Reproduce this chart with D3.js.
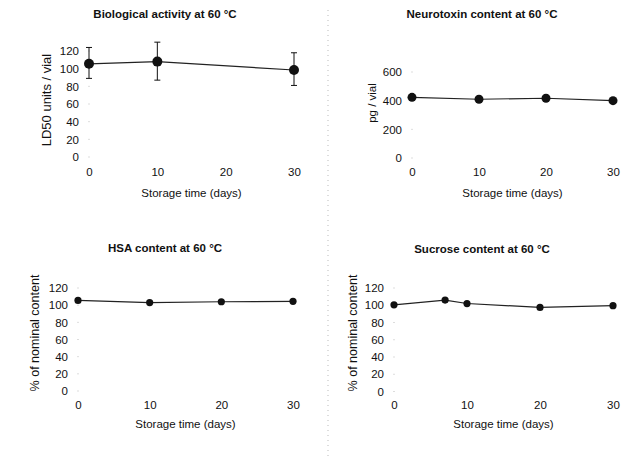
<!DOCTYPE html>
<html>
<head>
<meta charset="utf-8">
<script src="https://cdn.jsdelivr.net/npm/d3@7"></script>
<style>
  body { margin: 0; background: #fff; }
  svg text { font-family: "Liberation Sans", Arial, sans-serif; fill: #111; }
</style>
</head>
<body>
<div id="chart"></div>
<script>
// data
const bioDays = [0, 10, 30];
const bioValues = [105.5, 108, 98.5];
const bioLow = [89, 87, 81];
const bioHigh = [124, 130, 118];

const neuroDays = [0, 10, 20, 30];
const neuroValues = [423, 410, 417, 400];

const hsaDays = [0, 10, 20, 30];
const hsaValues = [105.5, 103, 104, 104.5];

const sucroseDays = [0, 7, 10, 20, 30];
const sucroseValues = [100.5, 106, 102, 97.5, 99.5];

const xTicks = [0, 10, 20, 30];
const pctTicks = [0, 20, 40, 60, 80, 100, 120];
const neuroTicks = [0, 200, 400, 600];

const titles = [
  'Biological activity at 60 °C',
  'Neurotoxin content at 60 °C',
  'HSA content at 60 °C',
  'Sucrose content at 60 °C'
];
const yLabels = ['LD50 units / vial', 'pg / vial', '% of nominal content', '% of nominal content'];
const xLabel = 'Storage time (days)';

const width = 629, height = 456;
const svg = d3.select('#chart').append('svg')
  .attr('width', width)
  .attr('height', height);

// faint scan divider
svg.append('line')
  .attr('x1', 328).attr('x2', 328)
  .attr('y1', 10).attr('y2', 456)
  .attr('stroke', '#aaa')
  .attr('stroke-width', 0.8)
  .attr('stroke-dasharray', '1,4');

const panels = [
  {days: bioDays, values: bioValues, low: bioLow, high: bioHigh, yTicks: pctTicks, yMax: 120,
   x0: 89, x1: 294, yb: 157, yt: 51, labelRight: 79, xLabY: 168, titleX: 165, titleY: 18,
   yLabX: 46, yLabY: 100, yLabSize: 13, xTitleY: 197, r: 5},
  {days: neuroDays, values: neuroValues, yTicks: neuroTicks, yMax: 600,
   x0: 412, x1: 613, yb: 158, yt: 72, labelRight: 402, xLabY: 168, titleX: 482, titleY: 18,
   yLabX: 372, yLabY: 103, yLabSize: 11.5, xTitleY: 197, r: 4.5},
  {days: hsaDays, values: hsaValues, yTicks: pctTicks, yMax: 120,
   x0: 78, x1: 293, yb: 391, yt: 288, labelRight: 68, xLabY: 401, titleX: 165, titleY: 252,
   yLabX: 35, yLabY: 333, yLabSize: 12.5, xTitleY: 428, r: 3.6},
  {days: sucroseDays, values: sucroseValues, yTicks: pctTicks, yMax: 120,
   x0: 394, x1: 613, yb: 391.5, yt: 288, labelRight: 384, xLabY: 401, titleX: 482, titleY: 253,
   yLabX: 353, yLabY: 333, yLabSize: 12.5, xTitleY: 428, r: 3.6}
];

panels.forEach((p, i) => {
  const g = svg.append('g');
  const x = d3.scaleLinear().domain([0, 30]).range([p.x0, p.x1]);
  const y = d3.scaleLinear().domain([0, p.yMax]).range([p.yb, p.yt]);

  g.append('text')
    .attr('x', p.titleX).attr('y', p.titleY)
    .attr('text-anchor', 'middle')
    .style('font-size', '11.5px')
    .style('font-weight', 'bold')
    .text(titles[i]);

  const yAxis = g.append('g')
    .attr('transform', `translate(${p.labelRight},0)`)
    .call(d3.axisLeft(y).tickValues(p.yTicks).tickSize(0).tickPadding(0));
  yAxis.select('.domain').remove();
  yAxis.selectAll('text').style('font-size', '11.5px').attr('fill', '#111');

  const xAxis = g.append('g')
    .attr('transform', `translate(0,${p.xLabY})`)
    .call(d3.axisBottom(x).tickValues(xTicks).tickSize(0).tickPadding(0));
  xAxis.select('.domain').remove();
  xAxis.selectAll('text').style('font-size', '11.5px').attr('fill', '#111');

  // faint tick specks left over from the scan
  g.selectAll('.speck').data(p.yTicks).join('rect')
    .attr('x', x(0) - 0.5).attr('y', d => y(d) - 0.5)
    .attr('width', 1).attr('height', 1)
    .attr('fill', '#bbb');

  g.append('text')
    .attr('transform', `translate(${p.yLabX},${p.yLabY}) rotate(-90)`)
    .attr('text-anchor', 'middle')
    .attr('dy', '0.35em')
    .style('font-size', p.yLabSize + 'px')
    .text(yLabels[i]);

  g.append('text')
    .attr('x', (p.x0 + p.x1) / 2).attr('y', p.xTitleY)
    .attr('text-anchor', 'middle')
    .style('font-size', '11.5px')
    .text(xLabel);

  const pts = p.days.map((d, k) => ({day: d, v: p.values[k],
    lo: p.low ? p.low[k] : null, hi: p.high ? p.high[k] : null}));

  if (p.low) {
    const eb = g.selectAll('.eb').data(pts).join('g');
    eb.append('line')
      .attr('x1', d => x(d.day)).attr('x2', d => x(d.day))
      .attr('y1', d => y(d.lo)).attr('y2', d => y(d.hi))
      .attr('stroke', '#111').attr('stroke-width', 1);
    ['lo', 'hi'].forEach(k => {
      eb.append('line')
        .attr('x1', d => x(d.day) - 3).attr('x2', d => x(d.day) + 3)
        .attr('y1', d => y(d[k])).attr('y2', d => y(d[k]))
        .attr('stroke', '#111').attr('stroke-width', 1);
    });
  }

  const line = d3.line().x(d => x(d.day)).y(d => y(d.v));
  g.append('path')
    .datum(pts)
    .attr('d', line)
    .attr('fill', 'none')
    .attr('stroke', '#222')
    .attr('stroke-width', 1.2);

  g.selectAll('.dot').data(pts).join('circle')
    .attr('cx', d => x(d.day)).attr('cy', d => y(d.v))
    .attr('r', p.r)
    .attr('fill', '#111');
});
</script>
</body>
</html>
